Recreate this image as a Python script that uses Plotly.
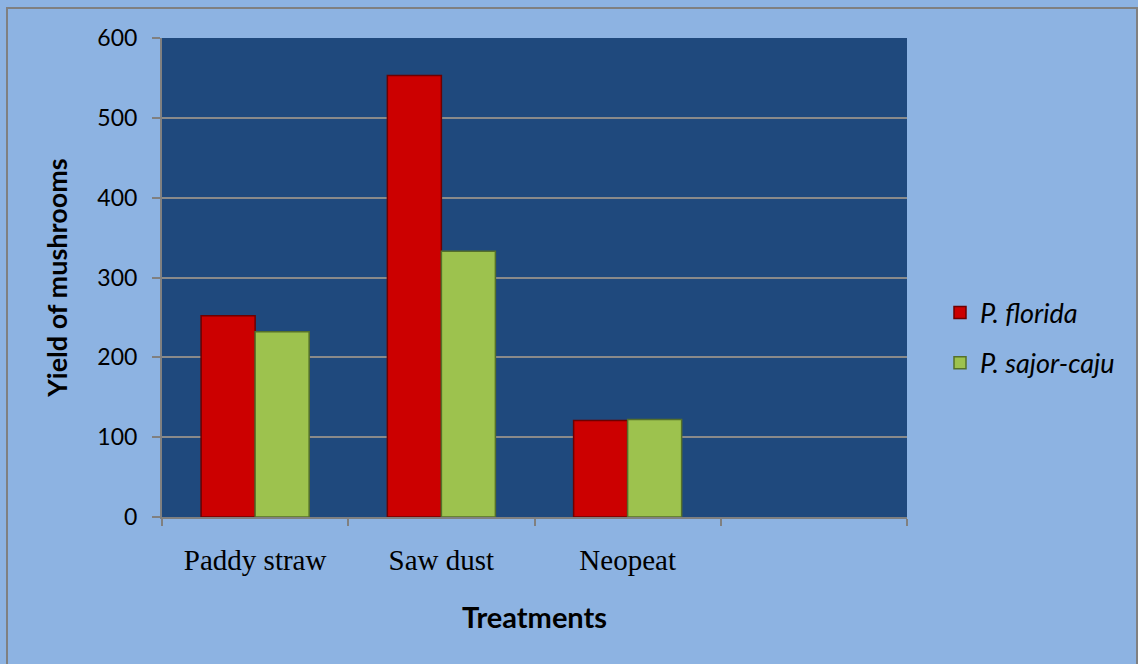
import plotly.graph_objects as go

categories = ["Paddy straw", "Saw dust", "Neopeat"]
all_slots = ["Paddy straw", "Saw dust", "Neopeat", " "]
p_florida = [252, 553, 121]
p_sajor_caju = [232, 333, 122]
y_ticks = [0, 100, 200, 300, 400, 500, 600]

fig = go.Figure()
fig.add_trace(go.Bar(
    x=categories, y=p_florida, name="<i>P. florida</i>", legendgroup="a",
    marker=dict(color="#CC0000", line=dict(color="#6e0000", width=1.5)),
))
fig.add_trace(go.Bar(
    x=categories, y=p_sajor_caju, name="<i>P. sajor-caju</i>", legendgroup="b",
    marker=dict(color="#9DC24E", line=dict(color="#55702a", width=1.5)),
))

L, R, T, B = 162, 231, 38, 147
PW, PH = 1138 - L - R, 664 - T - B

fig.update_layout(
    width=1138, height=664,
    paper_bgcolor="#8DB3E2",
    plot_bgcolor="#1F497D",
    margin=dict(l=L, r=R, t=T, b=B),
    barmode="group",
    bargap=0.42,
    bargroupgap=0.0,
    font=dict(family="Lato, Open Sans, sans-serif", color="black"),
    legend=dict(
        x=(940 - L) / PW, y=(T + PH - 338) / PH, xanchor="left", yanchor="middle",
        font=dict(size=27, family="Lato, sans-serif", color="black"),
        bgcolor="rgba(0,0,0,0)", traceorder="grouped", tracegroupgap=12, itemwidth=30,
    ),
    shapes=[dict(type="rect", xref="paper", yref="paper",
                 x0=(7 - L) / PW, x1=(1137 - L) / PW,
                 y0=(T + PH - 670) / PH, y1=(T + PH - 8) / PH,
                 line=dict(color="#808080", width=2), fillcolor="rgba(0,0,0,0)",
                 layer="below")],
)

fig.update_xaxes(
    type="category",
    categoryorder="array", categoryarray=all_slots,
    range=[-0.5, 3.5],
    tickson="boundaries",
    ticks="outside", ticklen=7, tickcolor="#808080", tickwidth=2,
    showline=True, linecolor="#808080", linewidth=2,
    showgrid=False,
    ticklabelstandoff=16,
    tickfont=dict(family="Liberation Serif, Times New Roman, serif", size=29, color="black"),
    title=dict(text="<b>Treatments</b>", font=dict(size=29, family="Lato, sans-serif"), standoff=33),
)
fig.update_yaxes(
    range=[0, 600],
    tickvals=y_ticks,
    ticks="outside", ticklen=8, tickcolor="#808080", tickwidth=2,
    showline=True, linecolor="#808080", linewidth=2,
    showgrid=True, gridcolor="#8a8a8a", gridwidth=2,
    zeroline=False,
    ticklabelstandoff=10,
    tickfont=dict(size=23, family="Lato, sans-serif", color="black"),
    title=dict(text="<b>Yield of mushrooms</b>", font=dict(size=27, family="Lato, sans-serif"), standoff=22),
)

fig.write_html("out.html")
